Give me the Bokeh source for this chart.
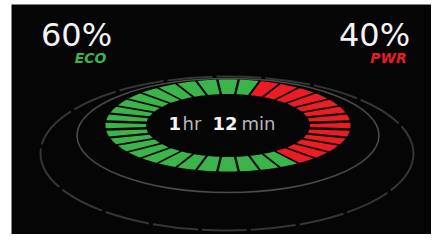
import numpy as np
from bokeh.plotting import figure
from bokeh.models import Range1d
from bokeh.core.properties import value
from bokeh.embed import file_html
from bokeh.resources import INLINE

# ---- data ----
modes = ["ECO", "PWR"]
shares = [60, 40]                     # percent
share_labels = ["60%", "40%"]
mode_colors = ["#3bb54a", "#ec1c24"]
segment_counts = [23, 13]             # ECO, PWR segments in the ring
time_parts = ["1", "hr", "12", "min"]

# ---- layout (pixel-like data space) ----
p = figure(width=431, height=234, x_range=Range1d(0, 431), y_range=Range1d(234, 0),
           output_backend="svg", toolbar_location=None, min_border=0)
p.xaxis.visible = False
p.yaxis.visible = False
p.grid.visible = False
p.outline_line_color = None
p.background_fill_color = "white"
p.border_fill_color = "white"

p.quad(left=11, right=431, top=4, bottom=234, fill_color="#050505", line_color=None)

# decorative ellipses
p.ellipse(x=226.5, y=153, width=373, height=154, fill_color=None,
          line_color="#353535", line_width=2, line_dash="45 4")
p.ellipse(x=227.5, y=135, width=302, height=114, fill_color=None,
          line_color="#4a4a4a", line_width=1.6)

# segmented ring
cx, cy = 227.5, 125.0
ao, bo = 122.5, 46.0
ai, bi = 82.0, 31.5
n_total = sum(segment_counts)
step = 2 * np.pi / n_total
gap = 2.4
start = np.deg2rad(75.0)   # PWR starts here and runs clockwise


def speed(a, b, t):
    return np.hypot(a * np.sin(t), b * np.cos(t))


xs, ys, cols = [], [], []
order = [1, 0]  # PWR first (clockwise from top-right), then ECO
idx = 0
for m in order:
    for _ in range(segment_counts[m]):
        t2 = start - idx * step
        t1 = t2 - step
        do1 = (gap / 2) / speed(ao, bo, t1)
        do2 = (gap / 2) / speed(ao, bo, t2)
        di1 = (gap / 2) / speed(ai, bi, t1)
        di2 = (gap / 2) / speed(ai, bi, t2)
        to = np.linspace(t1 + do1, t2 - do2, 8)
        ti = np.linspace(t2 - di2, t1 + di1, 8)
        px = np.concatenate([cx + ao * np.cos(to), cx + ai * np.cos(ti)])
        py = np.concatenate([cy - bo * np.sin(to), cy - bi * np.sin(ti)])
        xs.append(list(px))
        ys.append(list(py))
        cols.append(mode_colors[m])
        idx += 1

p.patches(xs=xs, ys=ys, fill_color=cols, line_color=None)

# percentages and mode labels
p.text(x=[76, 374], y=[34, 34], text=share_labels, text_color="#f4f4f4",
       text_font=value("DejaVu Sans"), text_font_size="32px",
       text_align="center", text_baseline="alphabetic")
p.text(x=[90, 388], y=[57, 57], text=modes, text_color=mode_colors,
       text_font=value("DejaVu Sans"), text_font_size="14px",
       text_font_style="bold italic", text_align="center", text_baseline="alphabetic")

# center time text
p.text(x=[168, 212], y=[123, 123], text=[time_parts[0], time_parts[2]],
       text_color="#f4f4f4", text_font=value("DejaVu Sans"), text_font_size="18px",
       text_font_style="bold", text_align="left", text_baseline="alphabetic")
p.text(x=[182, 241], y=[123, 123], text=[time_parts[1], time_parts[3]],
       text_color="#b8b8b8", text_font=value("DejaVu Sans"), text_font_size="18px",
       text_align="left", text_baseline="alphabetic")

open("out.html", "w").write(file_html(p, INLINE))
